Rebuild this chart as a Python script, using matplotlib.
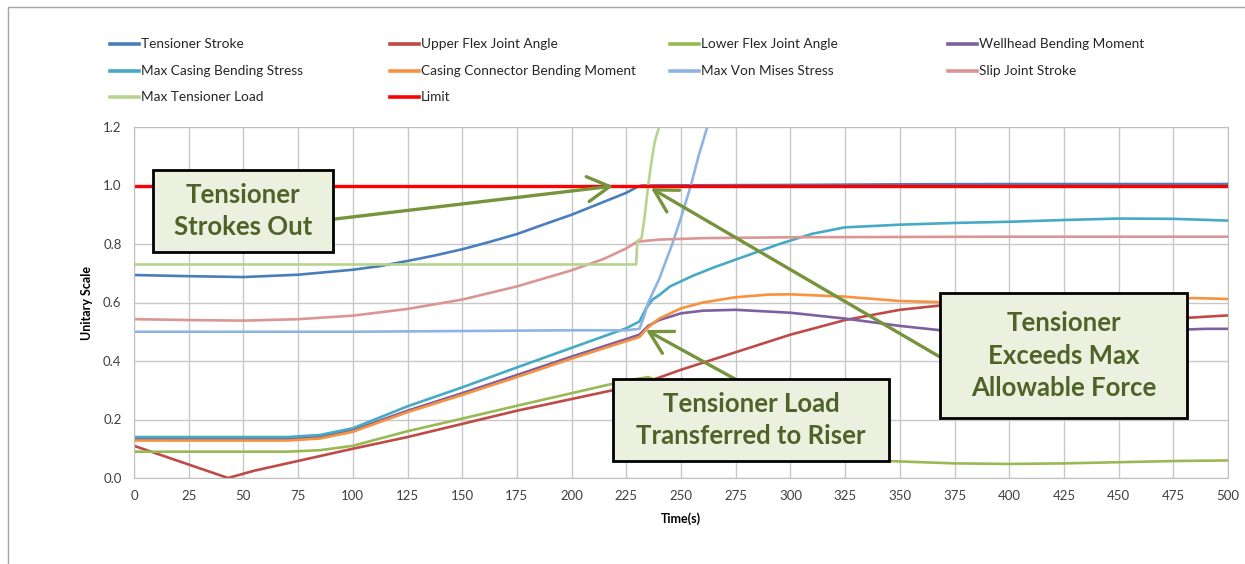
import matplotlib
matplotlib.use('Agg')
import matplotlib.pyplot as plt
from matplotlib.lines import Line2D
from matplotlib.patches import Rectangle
import numpy as np

W, H = 1245, 564

# ---- data ----
t_stroke = [0, 25, 50, 75, 100, 112, 125, 137, 150, 162, 175, 187, 200, 212, 225, 230, 232, 300, 350, 400, 450, 500]
tensioner_stroke = [0.694, 0.69, 0.687, 0.695, 0.712, 0.724, 0.742, 0.76, 0.782, 0.806, 0.834, 0.866, 0.9,
                    0.936, 0.975, 0.995, 1.0, 1.002, 1.004, 1.005, 1.005, 1.005]

t_upper = [0, 43, 55, 70, 85, 100, 125, 150, 175, 200, 225, 235, 250, 275, 300, 325, 350, 375, 400, 425, 450, 480, 500]
upper_flex = [0.11, 0.0, 0.025, 0.05, 0.075, 0.1, 0.14, 0.185, 0.23, 0.27, 0.31, 0.33, 0.37, 0.43, 0.49,
              0.54, 0.575, 0.595, 0.6, 0.59, 0.57, 0.547, 0.556]

t_lower = [0, 70, 85, 100, 110, 125, 150, 175, 200, 225, 235, 250, 270, 290, 310, 330, 345, 375, 400, 425, 450, 475, 500]
lower_flex = [0.09, 0.09, 0.095, 0.11, 0.13, 0.16, 0.203, 0.247, 0.29, 0.333, 0.345, 0.3, 0.22, 0.15, 0.1,
              0.07, 0.058, 0.05, 0.048, 0.05, 0.054, 0.058, 0.06]

t_wellhead = [0, 70, 85, 100, 110, 125, 150, 175, 200, 225, 231, 235, 240, 250, 260, 275, 300, 325, 350, 375, 400, 450, 490, 500]
wellhead_moment = [0.133, 0.133, 0.14, 0.163, 0.19, 0.23, 0.29, 0.352, 0.415, 0.475, 0.49, 0.52, 0.54, 0.563,
                   0.572, 0.575, 0.565, 0.545, 0.52, 0.5, 0.495, 0.5, 0.51, 0.51]

t_casing = [0, 70, 85, 100, 110, 125, 150, 175, 200, 225, 231, 234, 237, 240, 245, 255, 265, 280, 295, 310, 325,
            350, 375, 400, 425, 450, 475, 500]
casing_stress = [0.14, 0.14, 0.147, 0.17, 0.2, 0.245, 0.31, 0.378, 0.445, 0.512, 0.535, 0.58, 0.61, 0.625, 0.655,
                 0.69, 0.72, 0.76, 0.8, 0.835, 0.857, 0.866, 0.872, 0.876, 0.882, 0.887, 0.886, 0.88]

t_connector = [0, 70, 85, 100, 110, 125, 150, 175, 200, 225, 231, 235, 240, 250, 260, 275, 290, 300, 325, 350,
               375, 400, 450, 485, 500]
connector_moment = [0.128, 0.128, 0.135, 0.158, 0.185, 0.225, 0.284, 0.345, 0.408, 0.468, 0.482, 0.515, 0.545,
                    0.58, 0.6, 0.618, 0.627, 0.628, 0.62, 0.605, 0.6, 0.6, 0.61, 0.615, 0.612]

t_vonmises = [0, 100, 200, 225, 231, 233, 235, 240, 246, 250, 254.5, 258, 262]
von_mises = [0.5, 0.5, 0.505, 0.505, 0.51, 0.55, 0.6, 0.68, 0.8, 0.89, 1.0, 1.1, 1.2]

t_slip = [0, 25, 50, 75, 100, 125, 150, 175, 200, 215, 225, 230, 240, 260, 300, 400, 500]
slip_joint = [0.543, 0.54, 0.538, 0.543, 0.555, 0.578, 0.61, 0.655, 0.71, 0.75, 0.785, 0.808, 0.815, 0.82,
              0.823, 0.825, 0.825]

t_load = [0, 229.5, 230, 232, 233.5, 235, 236.5, 238, 240]
tensioner_load = [0.73, 0.73, 0.81, 0.82, 0.9, 1.0, 1.08, 1.15, 1.2]

t_limit = [0, 500]
limit = [1.0, 1.0]

series = [
    ('Tensioner Stroke', t_stroke, tensioner_stroke, '#4A7EBB'),
    ('Upper Flex Joint Angle', t_upper, upper_flex, '#BE4B48'),
    ('Lower Flex Joint Angle', t_lower, lower_flex, '#98B954'),
    ('Wellhead Bending Moment', t_wellhead, wellhead_moment, '#7D60A0'),
    ('Max Casing Bending Stress', t_casing, casing_stress, '#46AAC5'),
    ('Casing Connector Bending Moment', t_connector, connector_moment, '#F69240'),
    ('Max Von Mises Stress', t_vonmises, von_mises, '#8EB4E3'),
    ('Slip Joint Stroke', t_slip, slip_joint, '#DA9694'),
    ('Max Tensioner Load', t_load, tensioner_load, '#B7D48E'),
    ('Limit', t_limit, limit, '#FF0000'),
]

plt.rcParams['font.family'] = ['Lato', 'DejaVu Sans']


def fx(px):
  return px / W


def fy(py):
  return 1 - py / H


fig = plt.figure(figsize=(W / 100, H / 100), dpi=100)
ax = fig.add_axes([fx(134), fy(478), (1228 - 134) / W, (478 - 127) / H])

for name, t, v, color in series:
  lw = 2.4 if name == 'Limit' else 1.9
  ax.plot(t, v, color=color, lw=lw, label=name, solid_capstyle='butt')

ax.set_xlim(0, 500)
ax.set_ylim(0, 1.2)
ax.set_xticks(np.arange(0, 501, 25))
ax.set_yticks(np.arange(0, 1.21, 0.2))
ax.set_yticklabels([f'{v:.1f}' for v in np.arange(0, 1.21, 0.2)])
ax.grid(True, color='#C8C8C8', lw=1)
ax.set_axisbelow(True)
for s in ax.spines.values():
  s.set_color('#BFBFBF')
ax.tick_params(length=0, labelsize=9.5, colors='#404040', pad=9)
ax.set_xlabel('Time(s)', fontsize=9, fontweight='bold', labelpad=7)
ax.set_ylabel('Unitary Scale', fontsize=9, fontweight='bold', labelpad=7)

# legend laid out like the excel one: 4 columns, row-major
cols_x = [110, 390, 670, 948]
rows_y = [44, 71, 97]
for i, (name, t, v, color) in enumerate(series):
  r, c = divmod(i, 4)
  x0, y0 = cols_x[c], rows_y[r]
  fig.add_artist(Line2D([fx(x0), fx(x0 + 29)], [fy(y0), fy(y0)], color=color, lw=2.6))
  fig.text(fx(x0 + 31), fy(y0), name, fontsize=9.8, va='center', ha='left', color='#262626')

# outer frame of the chart object
fig.add_artist(Rectangle((fx(8), -0.05), 1.1, fy(7) + 0.05, transform=fig.transFigure,
                         fill=False, edgecolor='#A6A6A6', lw=1))

# callouts
box_fill = '#EBF1DE'
txt_color = '#4F6228'
arrow_color = '#77933C'
callouts = [
  ((153, 170, 333, 252), 'Tensioner\nStrokes Out', (335, 219), (219, 0.998)),
  ((613, 379, 889, 461), 'Tensioner Load\nTransferred to Riser', (735, 379), (234, 0.506)),
  ((940, 293, 1187, 418), 'Tensioner\nExceeds Max\nAllowable Force', (940, 357), (236.3, 0.991)),
]
for (x0, y0, x1, y1), label, tail, target in callouts:
  ax.annotate('', xy=target, xycoords='data', xytext=(fx(tail[0]), fy(tail[1])),
              textcoords='figure fraction',
              arrowprops=dict(arrowstyle='->,head_length=0.8,head_width=0.45', color=arrow_color,
                              lw=2.4, shrinkA=0, shrinkB=0, mutation_scale=20),
              zorder=5, annotation_clip=False)
  fig.add_artist(Rectangle((fx(x0), fy(y1)), (x1 - x0) / W, (y1 - y0) / H, transform=fig.transFigure,
                           facecolor=box_fill, edgecolor='black', lw=2, zorder=6))
  fig.text(fx((x0 + x1) / 2), fy((y0 + y1) / 2), label, ha='center', va='center', fontsize=18.5,
           fontweight='bold', color=txt_color, linespacing=1.42, zorder=7)

fig.savefig('out.png', dpi=100)
